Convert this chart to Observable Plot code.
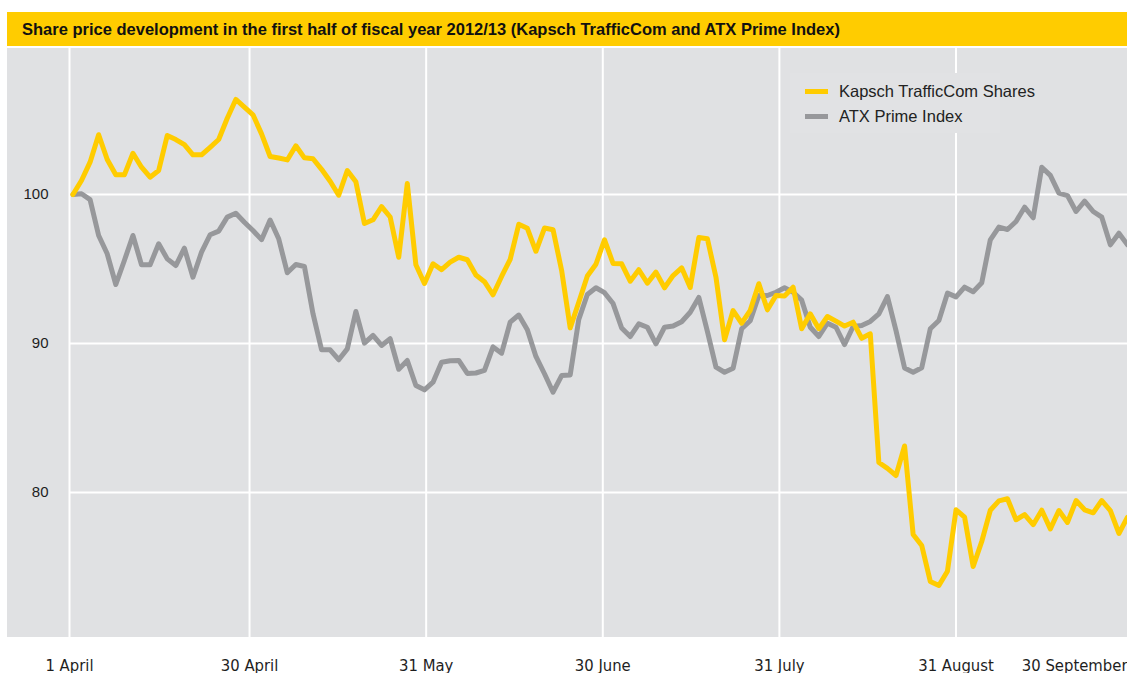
<!DOCTYPE html>
<html><head><meta charset="utf-8">
<script src="https://cdn.jsdelivr.net/npm/d3@7"></script>
<script src="https://cdn.jsdelivr.net/npm/@observablehq/plot@0.6"></script>
<style>
html,body{margin:0;padding:0;background:#fff;width:1127px;height:673px;overflow:hidden;}
#wrap{position:relative;width:1127px;height:673px;}
#title{position:absolute;z-index:3;left:7px;top:12px;width:1120px;height:34px;background:#ffcc00;font:bold 16.5px "Liberation Sans",Arial,sans-serif;line-height:34px;padding-left:15px;box-sizing:border-box;color:#111;white-space:nowrap;}
#bg{position:absolute;z-index:0;left:7px;top:48px;width:1120px;height:589px;background:#e0e1e3;}
#chart{position:absolute;z-index:1;left:0;top:0;}
#legend{position:absolute;z-index:2;left:790px;top:73px;width:210px;height:60px;background:#e1e2e4;font:16.5px "Liberation Sans",Arial,sans-serif;color:#222;}
.item{position:absolute;left:15px;height:20px;line-height:20px;white-space:nowrap;}
.sw{display:inline-block;width:23px;height:5px;vertical-align:middle;margin-right:11px;position:relative;top:-1px;}
</style></head>
<body><div id="wrap">
<div id="bg"></div>
<div id="chart"></div>
<div id="title"></div>
<div id="legend"></div>
</div>
<script>
const titleText = "Share price development in the first half of fiscal year 2012/13 (Kapsch TrafficCom and ATX Prime Index)";
const seriesNames = ["Kapsch TrafficCom Shares", "ATX Prime Index"];
const seriesColors = ["#ffcc00", "#97989b"];
const kapsch = [100, 100.94, 102.17, 104.01, 102.35, 101.32, 101.32, 102.77, 101.83, 101.16, 101.61, 103.96, 103.69, 103.34, 102.66, 102.66, 103.17, 103.69, 105.12, 106.38, 105.86, 105.35, 104.07, 102.55, 102.45, 102.32, 103.27, 102.46, 102.40, 101.69, 100.89, 99.95, 101.61, 100.86, 98.05, 98.30, 99.19, 98.49, 95.79, 100.74, 95.28, 94.03, 95.35, 94.95, 95.46, 95.79, 95.62, 94.60, 94.15, 93.27, 94.50, 95.65, 98.0, 97.73, 96.19, 97.75, 97.63, 94.90, 91.05, 92.77, 94.53, 95.32, 96.96, 95.37, 95.35, 94.18, 94.95, 94.05, 94.79, 93.74, 94.56, 95.08, 93.76, 97.11, 97.03, 94.45, 90.25, 92.21, 91.36, 92.23, 94.01, 92.26, 93.22, 93.19, 93.78, 90.99, 91.99, 90.99, 91.81, 91.50, 91.17, 91.43, 90.35, 90.65, 82.01, 81.62, 81.14, 83.12, 77.18, 76.44, 74.03, 73.76, 74.72, 78.84, 78.34, 75.03, 76.71, 78.81, 79.44, 79.58, 78.17, 78.52, 77.84, 78.81, 77.56, 78.79, 77.99, 79.46, 78.84, 78.64, 79.46, 78.79, 77.25, 78.34];
const atx = [100, 100.05, 99.66, 97.25, 96.02, 93.96, 95.57, 97.25, 95.28, 95.28, 96.69, 95.68, 95.23, 96.40, 94.45, 96.13, 97.30, 97.54, 98.48, 98.74, 98.14, 97.58, 96.97, 98.29, 97.03, 94.75, 95.30, 95.17, 92.0, 89.58, 89.58, 88.91, 89.64, 92.15, 90.02, 90.54, 89.87, 90.32, 88.27, 88.86, 87.18, 86.89, 87.40, 88.74, 88.84, 88.86, 87.99, 88.02, 88.19, 89.77, 89.35, 91.43, 91.91, 90.92, 89.13, 87.97, 86.73, 87.85, 87.89, 91.62, 93.29, 93.74, 93.41, 92.68, 91.04, 90.47, 91.32, 91.09, 89.98, 91.09, 91.17, 91.46, 92.10, 93.09, 90.82, 88.41, 88.07, 88.34, 90.99, 91.53, 93.22, 93.22, 93.44, 93.74, 93.44, 92.91, 91.09, 90.47, 91.36, 91.09, 89.93, 91.14, 91.21, 91.48, 91.99, 93.15, 90.87, 88.36, 88.07, 88.37, 90.99, 91.54, 93.38, 93.13, 93.78, 93.47, 94.08, 96.96, 97.81, 97.65, 98.19, 99.15, 98.44, 101.83, 101.28, 100.09, 99.93, 98.86, 99.55, 98.86, 98.48, 96.62, 97.40, 96.62];
const monthLabels = ["1 April", "30 April", "31 May", "30 June", "31 July", "31 August", "30 September"];
const monthPos = [-0.4, 20.6, 41.2, 61.8, 82.4, 103, 123];
const yTicks = [80, 90, 100];

document.getElementById("title").textContent = titleText;
const leg = document.getElementById("legend");
seriesNames.forEach((n, k) => {
  const d = document.createElement("div");
  d.className = "item";
  d.style.top = (8 + k * 25) + "px";
  d.innerHTML = `<span class="sw" style="background:${seriesColors[k]}"></span>${n}`;
  leg.appendChild(d);
});

const kRows = kapsch.map((v, i) => ({i, v}));
const aRows = atx.map((v, i) => ({i, v}));
const gridPos = monthPos.slice(0, 6);
const xFont = "'Liberation Sans Narrow', 'DejaVu Sans Condensed', sans-serif";

const chart = Plot.plot({
  width: 1127, height: 673,
  marginTop: 45, marginBottom: 32, marginLeft: 69, marginRight: 0,
  style: {background: "transparent", overflow: "visible", fontFamily: "'Liberation Sans', Arial, sans-serif"},
  x: {domain: [-0.4, 123], axis: null},
  y: {domain: [70, 110], axis: null},
  marks: [
    Plot.ruleY(yTicks, {stroke: "#fff", strokeWidth: 2}),
    Plot.ruleX(gridPos, {stroke: "#fff", strokeWidth: 2}),
    Plot.axisY(yTicks, {tickSize: 0, tickPadding: 21, fontSize: 15, color: "#1e1e1e", label: null}),
    Plot.line(aRows, {x: "i", y: "v", stroke: seriesColors[1], strokeWidth: 5}),
    Plot.line(kRows, {x: "i", y: "v", stroke: seriesColors[0], strokeWidth: 5}),
    Plot.text(gridPos, {x: d => d, text: (d, i) => monthLabels[i], frameAnchor: "bottom", dy: 29, fontSize: 16.5, fontFamily: xFont, fill: "#1e1e1e"}),
    Plot.text([monthPos[6]], {x: d => d, text: [monthLabels[6]], frameAnchor: "bottom", dy: 29, textAnchor: "end", fontSize: 16.5, fontFamily: xFont, fill: "#1e1e1e"})
  ]
});
document.getElementById("chart").appendChild(chart);
</script>
</body></html>
